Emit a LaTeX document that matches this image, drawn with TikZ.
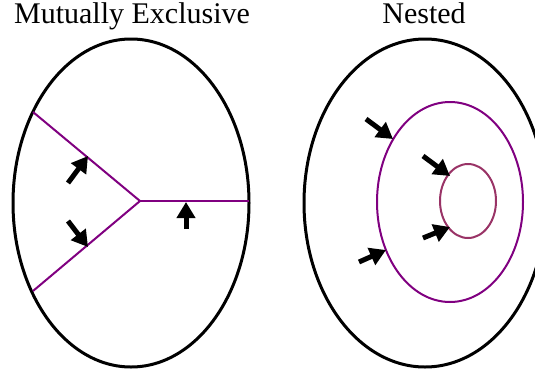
\documentclass[tikz,border=0pt]{standalone}
\usepackage{fontspec}
\setmainfont{Liberation Serif}
\usetikzlibrary{arrows.meta}
\definecolor{setPurple}{HTML}{800080}
\definecolor{setRose}{HTML}{993366}

\begin{document}
\begin{tikzpicture}[x=1pt, y=-1pt,
  title/.style={font=\fontsize{30}{36}\selectfont, anchor=base, inner sep=0pt},
  universe/.style={draw=black, line width=3pt},
  bound/.style={draw=setPurple, line width=2pt},
  core/.style={draw=setRose, line width=2pt},
  push/.style={-{Triangle[length=16pt,width=18pt]}, line width=5pt},
]
\clip (0,0) rectangle (535,375);
\node[title] (mutex) at (132,23) {Mutually Exclusive};
\node[title] (nest) at (424,23) {Nested};
% mutually exclusive
\draw[universe] (131,203) ellipse [x radius=118, y radius=164];
\coordinate (hub) at (140,201);
\coordinate (nw) at (33,112);
\coordinate (sw) at (33,291);
\coordinate (east) at (249,201);
\draw[bound] (nw) -- (hub) -- (sw);
\draw[bound] (hub) -- (east);
\draw[push] (68,183) -- (88,156);
\draw[push] (68,221) -- (88,247);
\draw[push] (186,229) -- (186,202);
% nested
\draw[universe] (425,203) ellipse [x radius=121, y radius=164];
\draw[bound] (450,202) ellipse [x radius=73, y radius=100];
\draw[core] (468,201) ellipse [x radius=28, y radius=37];
\draw[push] (366,119) -- (393,139);
\draw[push] (423,156) -- (450,176);
\draw[push] (423,238) -- (450,227);
\draw[push] (359,262) -- (386,250);
\end{tikzpicture}
\end{document}
